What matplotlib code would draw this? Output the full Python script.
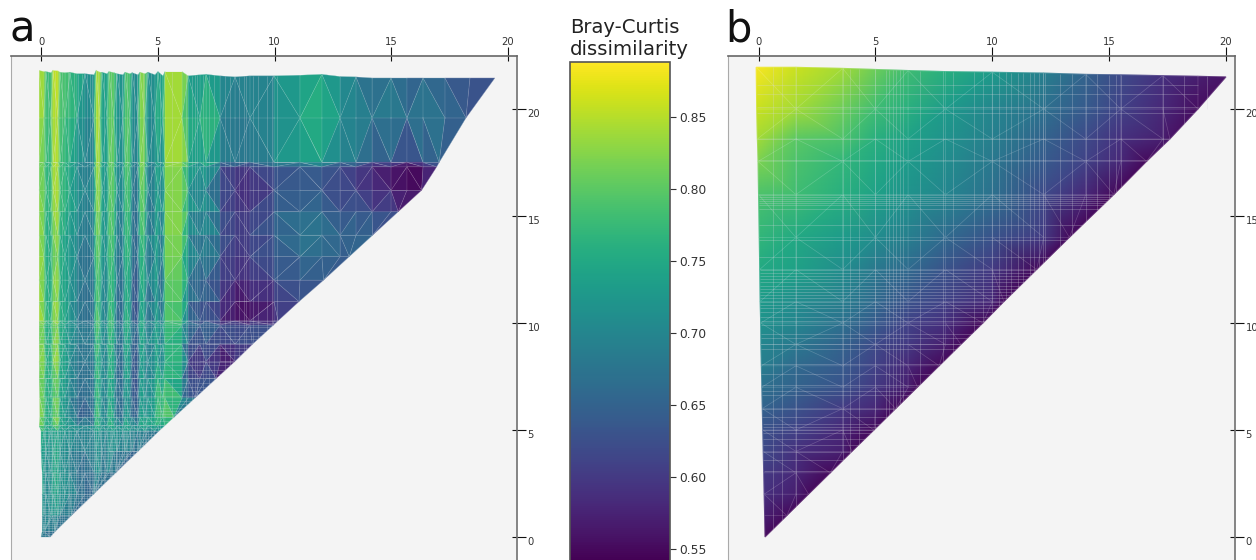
import matplotlib
matplotlib.use("Agg")
import matplotlib.pyplot as plt
import matplotlib.tri as mtri
import numpy as np

W, H = 1256, 560
VMIN, VMAX = 0.5415, 0.888
TICKS = [0, 5, 10, 15, 20]
CBAR_TICKS = [0.55, 0.60, 0.65, 0.70, 0.75, 0.80, 0.85]
CBAR_TITLE = "Bray-Curtis\ndissimilarity"

# ---- panel a: column positions, row positions, values in hundredths
xa = [-0.08, 0.13, 0.21, 0.43, 0.51, 0.73, 0.81, 1.03, 1.24, 1.54, 1.88, 2.27, 2.36, 2.53, 2.61, 2.83, 2.91,
      3.13, 3.25, 3.51, 3.60, 3.81, 3.90, 4.15, 4.24, 4.45, 4.58, 4.88, 5.01, 5.22, 5.31, 6.04, 6.30, 6.81,
      7.07, 7.67, 8.31, 8.95, 9.98, 11.09, 12.03, 12.81, 13.49, 14.18, 14.99, 15.67, 16.36, 17.30, 18.37, 19.44]
tops_a = [21.8, 21.75, 21.75, 21.7, 21.8, 21.78, 21.72, 21.7, 21.72, 21.65, 21.65, 21.6, 21.8, 21.72, 21.72,
          21.65, 21.75, 21.7, 21.65, 21.6, 21.72, 21.65, 21.7, 21.6, 21.72, 21.65, 21.72, 21.6, 21.75, 21.55,
          21.75, 21.75, 21.55, 21.6, 21.62, 21.55, 21.5, 21.55, 21.55, 21.58, 21.62, 21.52, 21.5, 21.45, 21.45,
          21.45, 21.45, 21.45, 21.45, 21.45]
ya = [19.58, 17.5, 17.3, 16.2, 15.2, 14.1, 13.1, 12.0, 11.0, 10.1, 9.9, 9.0, 8.2, 7.4, 6.5, 5.6, 5.2, 4.95,
      4.0, 3.0, 2.0, 1.0, 0.25, 0.0]
left_a = [-0.08, -0.08, -0.08, -0.08, -0.08, -0.08, -0.08, -0.08, -0.08, -0.08, -0.08, -0.08, -0.07, -0.08,
          -0.06, -0.05, -0.08, 0.0, 0.0, 0.05, 0.06, 0.05, 0.05, 0.0]
end_a = [18.2, 17.05, 16.95, 16.3, 15.3, 14.2, 13.2, 12.1, 11.05, 10.15, 9.95, 9.05, 8.3, 7.5, 6.6, 5.7, 5.3,
         5.05, 4.15, 3.2, 2.25, 1.3, 0.6, 0.4]
top_row_a = [85, 84, 78, 77, 85, 86, 79, 79, 78, 76, 72, 72, 85, 84, 75, 74, 80, 80, 73, 72, 79, 79, 71, 71, 83,
             82, 72, 71, 76, 76, 83, 84, 76, 72, 78, 71, 69, 70, 70, 72, 75, 71, 68, 65, 67, 64, 64, 65, 63, 63]
rows_a = [
    [84, 82, 78, 78, 84, 85, 79, 78, 77, 75, 70, 70, 85, 83, 73, 73, 80, 80, 72, 71, 79, 79, 71, 70, 82, 82, 70, 71, 79, 70, 84, 85, 76, 71, 80, 70, 68, 69, 70, 76, 76, 72, 70, 69, 69, 68, 70, 68, 63],
    [82, 81, 77, 77, 84, 85, 78, 77, 75, 72, 69, 70, 85, 83, 74, 73, 81, 80, 72, 71, 80, 79, 70, 69, 82, 82, 70, 71, 75, 70, 83, 84, 78, 72, 79, 69, 67, 68, 69, 73, 73, 69, 67, 64, 62, 60, 62, 63],
    [81, 81, 76, 77, 84, 85, 78, 76, 75, 71, 68, 70, 84, 82, 73, 72, 80, 80, 71, 70, 79, 78, 69, 67, 82, 81, 68, 70, 75, 68, 82, 83, 75, 69, 75, 63, 60, 60, 63, 65, 64, 62, 60, 58, 56, 55, 55, 63],
    [82, 81, 77, 77, 83, 85, 78, 77, 75, 72, 69, 71, 84, 82, 74, 72, 80, 80, 71, 71, 79, 78, 69, 67, 81, 80, 68, 70, 77, 68, 82, 82, 75, 69, 74, 63, 59, 58, 62, 64, 63, 62, 61, 59, 57, 55, 55],
    [84, 81, 76, 77, 82, 85, 78, 76, 74, 72, 68, 70, 82, 81, 74, 72, 80, 79, 70, 69, 78, 77, 68, 66, 80, 79, 66, 70, 76, 67, 82, 83, 75, 67, 74, 63, 60, 60, 64, 67, 66, 63, 64, 62, 62, 60],
    [84, 80, 76, 75, 80, 84, 76, 74, 73, 71, 67, 70, 82, 80, 73, 71, 80, 78, 69, 68, 78, 76, 68, 65, 78, 78, 66, 72, 74, 66, 83, 82, 73, 65, 72, 64, 60, 61, 64, 68, 68, 65, 66, 66],
    [83, 81, 76, 75, 79, 84, 76, 74, 73, 70, 66, 69, 80, 78, 73, 71, 78, 77, 68, 68, 76, 76, 68, 64, 76, 76, 66, 74, 72, 66, 82, 80, 73, 65, 70, 63, 60, 60, 64, 66, 66, 64, 64],
    [85, 81, 76, 75, 80, 84, 76, 74, 73, 70, 66, 69, 80, 78, 71, 70, 78, 76, 67, 67, 76, 74, 66, 63, 76, 76, 65, 74, 72, 65, 82, 80, 71, 64, 68, 61, 58, 60, 62, 64, 64],
    [85, 80, 76, 75, 80, 85, 75, 74, 72, 69, 66, 68, 80, 76, 71, 69, 78, 76, 66, 66, 76, 74, 65, 62, 74, 74, 64, 72, 72, 65, 80, 78, 69, 62, 66, 60, 57, 55, 60, 62],
    [85, 81, 78, 76, 82, 85, 76, 76, 72, 69, 66, 68, 82, 76, 71, 69, 80, 76, 66, 66, 78, 74, 65, 62, 76, 74, 65, 74, 74, 66, 80, 78, 67, 60, 64, 58, 56, 55, 58, 60],
    [81, 80, 76, 75, 80, 83, 75, 74, 72, 70, 68, 69, 80, 76, 72, 70, 78, 76, 69, 68, 76, 74, 68, 66, 76, 74, 67, 74, 74, 69, 78, 76, 68, 64, 66, 63, 62, 62, 63],
    [83, 81, 76, 76, 80, 85, 76, 74, 72, 69, 67, 69, 80, 74, 71, 70, 78, 74, 67, 67, 76, 72, 66, 63, 74, 74, 67, 74, 74, 67, 78, 74, 64, 61, 64, 60, 62, 63],
    [82, 84, 76, 75, 80, 85, 75, 74, 71, 68, 67, 68, 80, 74, 71, 69, 78, 74, 66, 66, 76, 72, 65, 63, 74, 72, 67, 72, 76, 69, 78, 78, 62, 57, 62, 56, 55],
    [82, 80, 76, 76, 78, 82, 75, 74, 71, 68, 66, 68, 78, 74, 71, 70, 76, 74, 66, 66, 74, 72, 64, 63, 74, 72, 69, 74, 78, 71, 80, 72, 61, 61, 62, 62],
    [82, 80, 76, 75, 78, 82, 75, 72, 71, 67, 66, 68, 80, 74, 71, 69, 78, 72, 67, 67, 74, 70, 65, 63, 74, 72, 71, 74, 80, 75, 82, 72, 63, 66],
    [84, 80, 76, 75, 78, 84, 75, 72, 71, 65, 63, 67, 80, 74, 71, 69, 78, 72, 67, 65, 74, 70, 66, 65, 74, 72, 73, 74, 78, 76, 80, 76],
    [84, 76, 76, 74, 78, 84, 74, 74, 72, 72, 70, 72, 78, 74, 72, 72, 76, 74, 72, 72, 76, 74, 72, 72, 74, 76, 74, 76, 76, 74],
    [76, 75, 75, 73, 73, 75, 73, 73, 72, 71, 70, 71, 73, 73, 72, 71, 71, 73, 72, 71, 72, 71, 71, 70, 71, 71, 70, 69, 68],
    [74, 73, 72, 72, 74, 75, 72, 70, 70, 69, 68, 70, 72, 70, 68, 70, 72, 71, 70, 68, 70, 69, 67, 65],
    [76, 72, 70, 72, 74, 76, 72, 72, 70, 66, 65, 68, 72, 72, 68, 68, 70, 64],
    [74, 72, 70, 72, 74, 75, 72, 72, 71, 70, 66, 66],
    [72, 70, 70, 72, 72, 72, 70, 66],
    [70, 68, 66],
    [70, 66],
]
mesh_ya = [0.1, 0.2, 0.3, 0.4, 0.5, 0.6, 0.7, 0.8, 0.9, 1.0, 1.1, 1.2, 1.3, 1.45, 1.6, 1.7, 1.8, 1.9, 2.0, 2.15, 2.3,
           2.4, 2.5, 2.65, 2.8, 2.9, 3.0, 3.15, 3.3, 3.4, 3.5, 3.65, 3.8, 3.9, 4.0, 4.15, 4.3, 4.45, 4.6, 4.7, 4.8,
           4.95, 5.1, 5.25, 5.4, 5.6, 5.75, 5.9, 6.05, 6.2, 6.35, 6.6, 6.8, 7.0, 7.2, 7.45, 7.6, 7.8, 8.05, 8.2,
           8.5, 8.7, 8.85, 9.05, 9.25, 9.4, 9.6, 9.8, 10.0, 10.1]
mesh_xa = [0.3, 0.62, 0.9, 1.15, 1.4, 1.6, 1.75, 1.95, 2.1, 2.2, 2.45, 2.7, 3.0, 3.2, 3.35, 3.45, 3.7, 4.0, 4.1, 4.35,
           4.5, 4.7, 5.1, 5.6, 6.2, 6.45, 6.6, 6.7, 6.95, 7.2, 7.4, 7.9, 8.1, 8.5, 8.7, 8.8, 9.1, 9.3, 9.7, 9.9, 10.1]
mesh_xa_low = [0.15, 0.35, 0.45, 0.55, 0.7, 0.8, 1.0, 1.2, 1.3, 1.5, 1.7, 1.85, 2.05, 2.25, 2.35, 2.55, 2.75, 2.95,
               3.05, 3.25, 3.55, 3.65, 3.8, 3.95, 4.25, 4.45, 4.6, 4.85]
mesh_low_top = 5.0

# ---- panel b
xb = [-0.1, 1.6, 3.6, 5.0, 6.4, 8.0, 10.0, 12.2, 14.0, 15.5, 17.3, 18.8, 20.0]
tops_b = [21.95, 21.95, 21.9, 21.85, 21.8, 21.75, 21.72, 21.68, 21.62, 21.6, 21.56, 21.53, 21.5]
yb = [20.0, 18.6, 17.55, 16.0, 14.0, 12.5, 11.0, 10.0, 9.0, 8.0, 7.0, 6.0, 5.0, 4.0, 3.0, 2.0, 1.0, 0.0]
left_b = [-0.08, -0.05, -0.02, 0.0, 0.03, 0.05, 0.07, 0.09, 0.1, 0.12, 0.14, 0.16, 0.18, 0.2, 0.22, 0.24, 0.26, 0.28]
end_b = [18.8, 17.6, 16.6, 15.2, 13.3, 11.9, 10.5, 9.6, 8.66, 7.73, 6.8, 5.87, 4.94, 4.0, 3.07, 2.14, 1.21, 0.28]
top_row_b = [88.5, 86, 84, 81, 78, 76, 73, 69, 65, 62, 59, 57, 56]
rows_b = [
    [86, 84, 81, 78, 76, 73, 70, 67, 64, 61, 58, 56, 55.5],
    [84, 80, 79, 76, 74, 72, 69, 65, 62, 59, 57, 56],
    [82, 79, 77, 75, 73, 71, 68, 64, 61, 58, 55],
    [79, 78, 76, 74, 72, 70, 67, 62, 58, 55],
    [77, 75, 73, 71, 69, 66, 63, 60, 55],
    [75, 74, 71, 68, 66, 63, 60, 55],
    [73, 71, 69, 66, 63, 61, 58, 55],
    [72, 70, 67, 64, 61, 59, 55],
    [70, 68, 65, 62, 60, 57, 55],
    [69, 66, 64, 61, 58, 55],
    [67, 65, 63, 60, 57, 55],
    [65, 63, 60, 58, 55],
    [63, 61, 58, 55],
    [62, 59, 57, 55],
    [60, 58, 55],
    [59, 57, 55],
    [57, 55],
    [55],
]
mesh_yb = [21.1, 20.7, 20.1, 19.8, 18.6, 17.6, 16.0, 15.9, 15.8, 15.7, 15.6, 15.5, 15.35, 14.6, 13.9, 13.1, 12.5, 12.35,
           12.2, 12.05, 11.9, 11.75, 11.6, 11.45, 11.3, 11.15, 11.0, 10.85, 10.7, 10.5, 10.3, 10.1, 9.9, 9.5, 9.3, 9.0,
           8.8, 8.1, 7.6, 7.1, 6.8, 6.65, 6.0, 5.6, 5.3, 5.15, 5.0, 4.85, 4.6, 4.3, 3.95, 3.6, 3.1]
mesh_xb = [0.6, 1.0, 1.6, 3.6, 3.9, 4.3, 5.0, 5.45, 5.6, 5.75, 5.9, 6.05, 6.2, 6.9, 7.9, 8.3, 9.2, 9.6, 10.0, 10.3,
           10.6, 10.8, 11.1, 11.3, 11.6, 11.8, 12.0, 12.15, 12.25, 12.9, 13.4, 14.0, 14.5, 15.0, 15.3, 15.5, 17.3, 18.2, 19.2]


def build(xcols, tops, top_row, ys, lefts, ends, rows):
    px, py, pz = list(xcols), list(tops), [v / 100 for v in top_row]
    strips = [list(range(len(xcols)))]
    for y, left, end, row in zip(ys, lefts, ends, rows):
        cols = [left] + [x for x in xcols[1:] if left + 0.03 < x < end - 0.05]
        if end - left < 0.05:
            cols = []
        idx = []
        for x, v in zip(cols, row[:-1]):
            idx.append(len(px))
            px.append(x)
            py.append(y)
            pz.append(v / 100)
        idx.append(len(px))
        px.append(end)
        py.append(y)
        pz.append(row[-1] / 100)
        strips.append(idx)
    tris = []
    flip = False
    for up, lo in zip(strips[:-1], strips[1:]):
        i = j = 0
        while i < len(up) - 1 or j < len(lo) - 1:
            if j == len(lo) - 1:
                adv_up = True
            elif i == len(up) - 1:
                adv_up = False
            else:
                du, dl = px[up[i + 1]], px[lo[j + 1]]
                if abs(du - dl) < 1e-6:
                    adv_up = flip
                    flip = not flip
                else:
                    adv_up = du < dl
            if adv_up:
                tris.append((up[i], up[i + 1], lo[j]))
                i += 1
            else:
                tris.append((up[i], lo[j + 1], lo[j]))
                j += 1
    return np.array(px), np.array(py), np.array(pz), np.array(tris)


def px_rect(l, t, r, b):
    return [l / W, 1 - b / H, (r - l) / W, (b - t) / H]


plt.rcParams["font.family"] = "DejaVu Sans"
fig = plt.figure(figsize=(W / 100, H / 100), dpi=100)


def panel(rect, x0_px, x20_px, letter, letter_x):
    ax = fig.add_axes(px_rect(*rect))
    sx = (x20_px - x0_px) / 20
    sy = 21.4
    ax.set_xlim((rect[0] - x0_px) / sx, (rect[2] - x0_px) / sx)
    ax.set_ylim((537 - rect[3]) / sy, (537 - rect[1]) / sy)
    ax.set_facecolor("#f4f4f4")
    ax.grid(True, color="#bababa", lw=1.1)
    ax.set_axisbelow(True)
    ax.set_xticks(TICKS)
    ax.set_yticks(TICKS)
    ax.set_xticks(TICKS, minor=True)
    ax.set_yticks(TICKS, minor=True)
    ax.xaxis.remove_overlapping_locs = False
    ax.yaxis.remove_overlapping_locs = False
    ax.xaxis.tick_top()
    ax.yaxis.tick_right()
    ax.tick_params(axis="both", which="major", length=6.5, width=0.8, color="#111111", direction="out",
                   labelsize=7.2, labelcolor="#333333")
    ax.tick_params(axis="both", which="minor", length=3.4, width=0.8, color="#111111", direction="in")
    ax.tick_params(axis="x", which="major", pad=0)
    ax.tick_params(axis="y", which="major", pad=1)
    for lab in ax.get_yticklabels():
        lab.set_verticalalignment("top")
    ax.spines["top"].set_color("#666666")
    ax.spines["right"].set_color("#707070")
    ax.spines["left"].set_color("#aaaaaa")
    ax.spines["bottom"].set_visible(False)
    ax.spines["top"].set_linewidth(1.2)
    ax.spines["right"].set_linewidth(1.2)
    fig.text(letter_x / W, 1 - 42 / H, letter, fontsize=30, color="#111111", ha="left", va="baseline")
    return ax


def wire(ax, tri, mesh_x, mesh_y, ys_all, lefts, ends, tops_x, tops_y, low_x=(), low_top=0.0):
    ax.triplot(tri, color="white", alpha=0.2, lw=0.5)
    order = np.argsort(ends)
    e = np.array(ends)[order]
    yy = np.array(ys_all)[order]
    for x in mesh_x:
        ax.vlines(x, np.interp(x, e, yy), np.interp(x, tops_x, tops_y), color="#d8d8e0", alpha=0.3, lw=0.6)
    for x in low_x:
        ax.vlines(x, np.interp(x, e, yy), low_top, color="#d8d8e0", alpha=0.3, lw=0.6)
    o2 = np.argsort(ys_all)
    ys_s = np.array(ys_all)[o2]
    for y in mesh_y:
        l = np.interp(y, ys_s, np.array(lefts)[o2])
        r = np.interp(y, ys_s, np.array(ends)[o2])
        ax.hlines(y, l, r, color="#d8d8e0", alpha=0.3, lw=0.6)


# panel a
ax_a = panel((11, 56, 517, 561), 41, 508, "a", 10)
xp, yp, zp, tp = build(xa, tops_a, top_row_a, ya, left_a, end_a, rows_a)
tri_a = mtri.Triangulation(xp, yp, tp)
ax_a.tripcolor(tri_a, zp, cmap="viridis", vmin=VMIN, vmax=VMAX, shading="flat", edgecolors="face", linewidth=0.15)
wire(ax_a, tri_a, mesh_xa, mesh_ya, ya, left_a, end_a, xa, tops_a, mesh_xa_low, mesh_low_top)

# panel b
ax_b = panel((728, 56, 1235, 561), 758.5, 1226, "b", 725)
xp, yp, zp, tp = build(xb, tops_b, top_row_b, yb, left_b, end_b, rows_b)
tri_b = mtri.Triangulation(xp, yp, tp)
ax_b.tripcolor(tri_b, zp, cmap="viridis", vmin=VMIN, vmax=VMAX, shading="gouraud")
wire(ax_b, tri_b, mesh_xb, mesh_yb, yb, left_b, end_b, xb, tops_b)

# colour bar
cax = fig.add_axes(px_rect(570, 62, 670, 561))
sm = plt.cm.ScalarMappable(norm=plt.Normalize(VMIN, VMAX), cmap="viridis")
cb = fig.colorbar(sm, cax=cax)
cb.set_ticks(CBAR_TICKS)
cb.set_ticklabels([f"{t:.2f}" for t in CBAR_TICKS])
cb.ax.tick_params(length=4, width=0.8, labelsize=8.8, pad=3, color="#333333", labelcolor="#333333")
cb.outline.set_edgecolor("#555555")
cb.outline.set_linewidth(1.2)
fig.text(570 / W, 1 - 55 / H, CBAR_TITLE, fontsize=14.1, color="#222222", ha="left", va="baseline", linespacing=1.22)

fig.savefig("out.png", dpi=100)
